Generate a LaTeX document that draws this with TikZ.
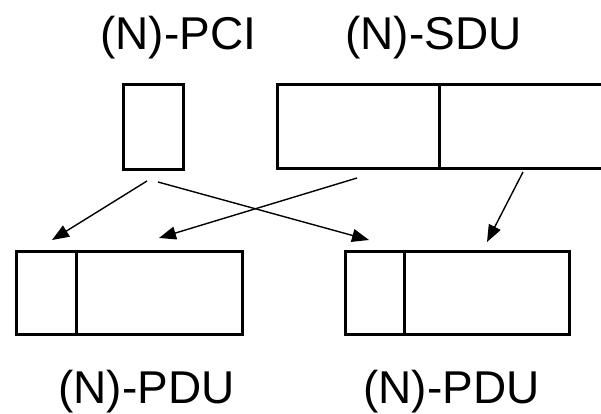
\documentclass[tikz,border=0pt]{standalone}
\usepackage{fontspec}
\setmainfont{Liberation Sans}
\usetikzlibrary{arrows.meta}
\begin{document}
\begin{tikzpicture}[x=1pt,y=-1pt,
  cell/.style={draw,line width=3pt,minimum width=#1,minimum height=84pt,inner sep=0pt,outer sep=0pt},
  lbl/.style={anchor=base west,inner sep=0pt,font=\fontsize{46}{50}\selectfont},
  conn/.style={line width=1.4pt,-{Triangle[length=17pt,width=13pt]}}]
\useasboundingbox (0,0) rectangle (601,414);
\clip (0,0) rectangle (601,414);
% labels
\node[lbl] (tpci) at (100,50) {(N)-PCI};
\node[lbl] (tsdu) at (345,50) {(N)-SDU};
\node[lbl] (tpdu1) at (58,403) {(N)-PDU};
\node[lbl] (tpdu2) at (363,403) {(N)-PDU};
% top boxes
\node[cell=60pt] (pci) at (153,127) {};
\node[cell=162pt] (sdua) at (358,126.5) {};
\node[cell=166pt] (sdub) at (522,126.5) {};
% bottom boxes
\node[cell=60pt,minimum height=83pt] (h1) at (46,292.5) {};
\node[cell=166pt,minimum height=83pt] (d1) at (159,292.5) {};
\node[cell=59pt,minimum height=83pt] (h2) at (374.5,292.5) {};
\node[cell=165pt,minimum height=83pt] (d2) at (486.5,292.5) {};
% connector end points
\coordinate (s1) at (147,181);
\coordinate (e1) at (52,240);
\coordinate (s2) at (158,182);
\coordinate (e2) at (369,240);
\coordinate (s3) at (357,178);
\coordinate (e3) at (159,238);
\coordinate (s4) at (523,172);
\coordinate (e4) at (487,242);
\draw[conn] (s1) -- (e1);
\draw[conn] (s2) -- (e2);
\draw[conn] (s3) -- (e3);
\draw[conn] (s4) -- (e4);
\end{tikzpicture}
\end{document}
